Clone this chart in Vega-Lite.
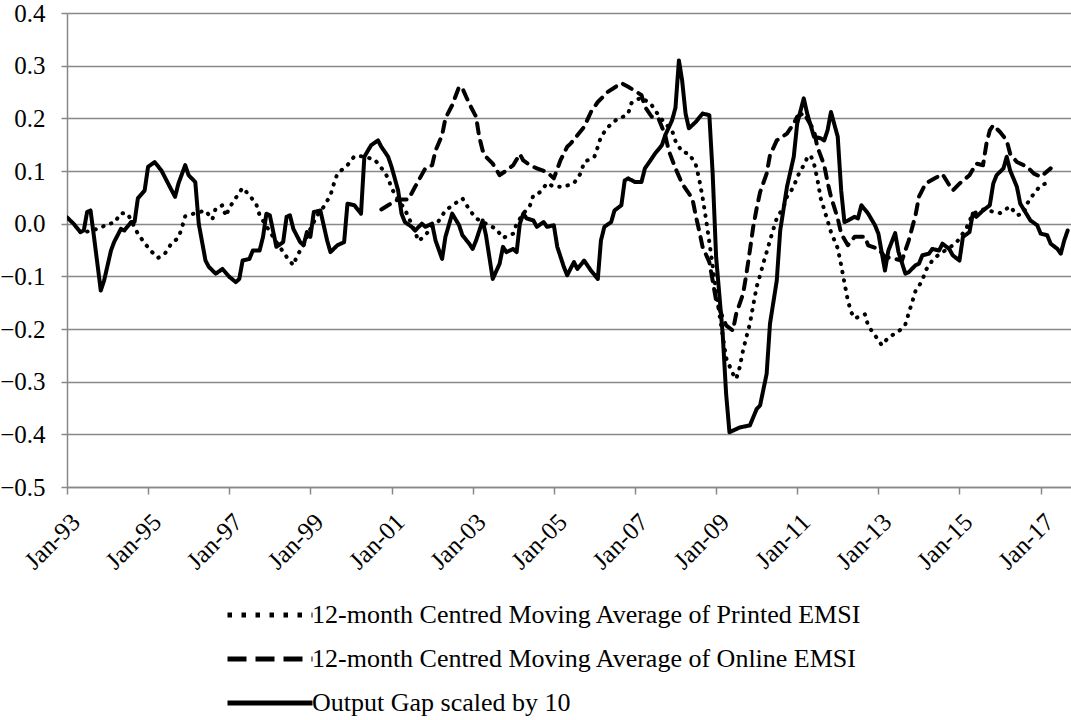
{
  "$schema": "https://vega.github.io/schema/vega-lite/v6.json",
  "width": 1004,
  "height": 474,
  "autosize": {"type": "none"},
  "padding": {"left": 67, "top": 13, "right": 0, "bottom": 233},
  "background": "white",
  "config": {"font": "Liberation Serif, Times New Roman, Times, DejaVu Serif, serif", "view": {"stroke": null}},
  "data": {"values": [
    {"s":"G","d":"1993-01-01","v":0.012},{"s":"G","d":"1993-03-01","v":0.0},{"s":"G","d":"1993-05-01","v":-0.016},{"s":"G","d":"1993-06-01","v":-0.013},{"s":"G","d":"1993-07-01","v":0.022},{"s":"G","d":"1993-08-01","v":0.025},{"s":"G","d":"1993-09-01","v":-0.025},{"s":"G","d":"1993-11-01","v":-0.127},{"s":"G","d":"1993-12-01","v":-0.108},
    {"s":"G","d":"1994-02-01","v":-0.051},{"s":"G","d":"1994-03-01","v":-0.035},{"s":"G","d":"1994-05-01","v":-0.01},{"s":"G","d":"1994-06-01","v":-0.013},{"s":"G","d":"1994-08-01","v":0.003},{"s":"G","d":"1994-09-01","v":0.003},{"s":"G","d":"1994-10-01","v":0.048},{"s":"G","d":"1994-12-01","v":0.063},
    {"s":"G","d":"1995-01-01","v":0.108},{"s":"G","d":"1995-03-01","v":0.117},{"s":"G","d":"1995-05-01","v":0.101},{"s":"G","d":"1995-07-01","v":0.076},{"s":"G","d":"1995-09-01","v":0.051},{"s":"G","d":"1995-10-01","v":0.076},{"s":"G","d":"1995-12-01","v":0.111},
    {"s":"G","d":"1996-01-01","v":0.092},{"s":"G","d":"1996-03-01","v":0.079},{"s":"G","d":"1996-04-01","v":0.0},{"s":"G","d":"1996-06-01","v":-0.07},{"s":"G","d":"1996-07-01","v":-0.082},{"s":"G","d":"1996-09-01","v":-0.095},{"s":"G","d":"1996-11-01","v":-0.086},
    {"s":"G","d":"1997-01-01","v":-0.101},{"s":"G","d":"1997-03-01","v":-0.111},{"s":"G","d":"1997-04-01","v":-0.105},{"s":"G","d":"1997-05-01","v":-0.07},{"s":"G","d":"1997-07-01","v":-0.067},{"s":"G","d":"1997-08-01","v":-0.051},{"s":"G","d":"1997-10-01","v":-0.051},{"s":"G","d":"1997-11-01","v":-0.025},{"s":"G","d":"1997-12-01","v":0.019},
    {"s":"G","d":"1998-01-01","v":0.016},{"s":"G","d":"1998-03-01","v":-0.044},{"s":"G","d":"1998-05-01","v":-0.035},{"s":"G","d":"1998-06-01","v":0.013},{"s":"G","d":"1998-07-01","v":0.016},{"s":"G","d":"1998-08-01","v":-0.01},{"s":"G","d":"1998-10-01","v":-0.035},{"s":"G","d":"1998-11-01","v":-0.041},{"s":"G","d":"1998-12-01","v":-0.016},
    {"s":"G","d":"1999-01-01","v":-0.025},{"s":"G","d":"1999-02-01","v":0.022},{"s":"G","d":"1999-04-01","v":0.025},{"s":"G","d":"1999-06-01","v":-0.032},{"s":"G","d":"1999-07-01","v":-0.054},{"s":"G","d":"1999-09-01","v":-0.041},{"s":"G","d":"1999-11-01","v":-0.035},{"s":"G","d":"1999-12-01","v":0.038},
    {"s":"G","d":"2000-02-01","v":0.035},{"s":"G","d":"2000-04-01","v":0.019},{"s":"G","d":"2000-05-01","v":0.127},{"s":"G","d":"2000-07-01","v":0.149},{"s":"G","d":"2000-09-01","v":0.158},{"s":"G","d":"2000-10-01","v":0.146},{"s":"G","d":"2000-12-01","v":0.127},
    {"s":"G","d":"2001-01-01","v":0.108},{"s":"G","d":"2001-03-01","v":0.063},{"s":"G","d":"2001-04-01","v":0.019},{"s":"G","d":"2001-05-01","v":0.003},{"s":"G","d":"2001-07-01","v":-0.006},{"s":"G","d":"2001-08-01","v":-0.013},{"s":"G","d":"2001-10-01","v":0.0},{"s":"G","d":"2001-11-01","v":-0.006},
    {"s":"G","d":"2002-01-01","v":0.0},{"s":"G","d":"2002-02-01","v":-0.032},{"s":"G","d":"2002-04-01","v":-0.067},{"s":"G","d":"2002-05-01","v":-0.025},{"s":"G","d":"2002-07-01","v":0.019},{"s":"G","d":"2002-09-01","v":-0.003},{"s":"G","d":"2002-10-01","v":-0.022},{"s":"G","d":"2002-12-01","v":-0.038},
    {"s":"G","d":"2003-01-01","v":-0.048},{"s":"G","d":"2003-02-01","v":-0.032},{"s":"G","d":"2003-04-01","v":0.006},{"s":"G","d":"2003-05-01","v":-0.022},{"s":"G","d":"2003-07-01","v":-0.105},{"s":"G","d":"2003-09-01","v":-0.076},{"s":"G","d":"2003-10-01","v":-0.044},{"s":"G","d":"2003-11-01","v":-0.054},
    {"s":"G","d":"2004-01-01","v":-0.048},{"s":"G","d":"2004-02-01","v":-0.054},{"s":"G","d":"2004-03-01","v":0.0},{"s":"G","d":"2004-04-01","v":0.019},{"s":"G","d":"2004-05-01","v":0.01},{"s":"G","d":"2004-07-01","v":0.006},{"s":"G","d":"2004-08-01","v":-0.006},{"s":"G","d":"2004-10-01","v":0.003},{"s":"G","d":"2004-11-01","v":-0.006},
    {"s":"G","d":"2005-01-01","v":-0.003},{"s":"G","d":"2005-02-01","v":-0.044},{"s":"G","d":"2005-04-01","v":-0.082},{"s":"G","d":"2005-05-01","v":-0.098},{"s":"G","d":"2005-07-01","v":-0.073},{"s":"G","d":"2005-08-01","v":-0.086},{"s":"G","d":"2005-10-01","v":-0.07},{"s":"G","d":"2005-12-01","v":-0.089},
    {"s":"G","d":"2006-02-01","v":-0.105},{"s":"G","d":"2006-03-01","v":-0.032},{"s":"G","d":"2006-04-01","v":-0.006},{"s":"G","d":"2006-06-01","v":0.003},{"s":"G","d":"2006-07-01","v":0.025},{"s":"G","d":"2006-09-01","v":0.035},{"s":"G","d":"2006-10-01","v":0.082},{"s":"G","d":"2006-11-01","v":0.086},
    {"s":"G","d":"2007-01-01","v":0.079},{"s":"G","d":"2007-03-01","v":0.079},{"s":"G","d":"2007-04-01","v":0.105},{"s":"G","d":"2007-05-01","v":0.114},{"s":"G","d":"2007-07-01","v":0.133},{"s":"G","d":"2007-09-01","v":0.149},{"s":"G","d":"2007-10-01","v":0.168},{"s":"G","d":"2007-12-01","v":0.196},
    {"s":"G","d":"2008-01-01","v":0.22},{"s":"G","d":"2008-02-01","v":0.31},{"s":"G","d":"2008-03-01","v":0.272},{"s":"G","d":"2008-04-01","v":0.209},{"s":"G","d":"2008-05-01","v":0.181},{"s":"G","d":"2008-07-01","v":0.193},{"s":"G","d":"2008-09-01","v":0.209},{"s":"G","d":"2008-11-01","v":0.206},{"s":"G","d":"2008-12-01","v":0.095},
    {"s":"G","d":"2009-01-01","v":-0.063},{"s":"G","d":"2009-03-01","v":-0.209},{"s":"G","d":"2009-04-01","v":-0.323},{"s":"G","d":"2009-05-01","v":-0.396},{"s":"G","d":"2009-08-01","v":-0.387},{"s":"G","d":"2009-11-01","v":-0.383},
    {"s":"G","d":"2010-01-01","v":-0.352},{"s":"G","d":"2010-02-01","v":-0.345},{"s":"G","d":"2010-04-01","v":-0.285},{"s":"G","d":"2010-05-01","v":-0.19},{"s":"G","d":"2010-07-01","v":-0.108},{"s":"G","d":"2010-08-01","v":-0.013},{"s":"G","d":"2010-10-01","v":0.07},{"s":"G","d":"2010-12-01","v":0.127},
    {"s":"G","d":"2011-01-01","v":0.19},{"s":"G","d":"2011-03-01","v":0.238},{"s":"G","d":"2011-04-01","v":0.209},{"s":"G","d":"2011-06-01","v":0.165},{"s":"G","d":"2011-08-01","v":0.162},{"s":"G","d":"2011-09-01","v":0.158},{"s":"G","d":"2011-10-01","v":0.177},{"s":"G","d":"2011-11-01","v":0.212},
    {"s":"G","d":"2012-01-01","v":0.165},{"s":"G","d":"2012-02-01","v":0.063},{"s":"G","d":"2012-03-01","v":0.003},{"s":"G","d":"2012-04-01","v":0.006},{"s":"G","d":"2012-06-01","v":0.013},{"s":"G","d":"2012-07-01","v":0.01},{"s":"G","d":"2012-08-01","v":0.035},{"s":"G","d":"2012-10-01","v":0.019},{"s":"G","d":"2012-12-01","v":-0.003},
    {"s":"G","d":"2013-01-01","v":-0.019},{"s":"G","d":"2013-03-01","v":-0.089},{"s":"G","d":"2013-04-01","v":-0.051},{"s":"G","d":"2013-06-01","v":-0.018},{"s":"G","d":"2013-07-01","v":-0.054},{"s":"G","d":"2013-09-01","v":-0.095},{"s":"G","d":"2013-10-01","v":-0.092},{"s":"G","d":"2013-12-01","v":-0.079},
    {"s":"G","d":"2014-01-01","v":-0.076},{"s":"G","d":"2014-02-01","v":-0.06},{"s":"G","d":"2014-04-01","v":-0.057},{"s":"G","d":"2014-05-01","v":-0.048},{"s":"G","d":"2014-07-01","v":-0.051},{"s":"G","d":"2014-08-01","v":-0.038},{"s":"G","d":"2014-10-01","v":-0.048},{"s":"G","d":"2014-11-01","v":-0.06},
    {"s":"G","d":"2015-01-01","v":-0.07},{"s":"G","d":"2015-02-01","v":-0.025},{"s":"G","d":"2015-04-01","v":-0.016},{"s":"G","d":"2015-05-01","v":0.019},{"s":"G","d":"2015-06-01","v":0.013},{"s":"G","d":"2015-08-01","v":0.025},{"s":"G","d":"2015-10-01","v":0.035},{"s":"G","d":"2015-11-01","v":0.076},{"s":"G","d":"2015-12-01","v":0.092},
    {"s":"G","d":"2016-02-01","v":0.105},{"s":"G","d":"2016-03-01","v":0.127},{"s":"G","d":"2016-04-01","v":0.101},{"s":"G","d":"2016-06-01","v":0.07},{"s":"G","d":"2016-07-01","v":0.038},{"s":"G","d":"2016-10-01","v":0.006},{"s":"G","d":"2016-12-01","v":-0.003},
    {"s":"G","d":"2017-01-01","v":-0.019},{"s":"G","d":"2017-03-01","v":-0.022},{"s":"G","d":"2017-04-01","v":-0.038},{"s":"G","d":"2017-06-01","v":-0.048},{"s":"G","d":"2017-07-01","v":-0.057},{"s":"G","d":"2017-08-01","v":-0.032},{"s":"G","d":"2017-09-01","v":-0.013},

    {"s":"P","d":"1993-07-01","v":-0.015},{"s":"P","d":"1993-11-01","v":-0.008},{"s":"P","d":"1994-01-01","v":0.0},{"s":"P","d":"1994-03-01","v":0.001},{"s":"P","d":"1994-05-01","v":0.02},{"s":"P","d":"1994-07-01","v":0.019},{"s":"P","d":"1994-10-01","v":-0.019},{"s":"P","d":"1994-12-01","v":-0.037},
    {"s":"P","d":"1995-02-01","v":-0.053},{"s":"P","d":"1995-04-01","v":-0.065},{"s":"P","d":"1995-06-01","v":-0.057},{"s":"P","d":"1995-08-01","v":-0.037},{"s":"P","d":"1995-10-01","v":-0.027},{"s":"P","d":"1995-11-01","v":-0.008},{"s":"P","d":"1995-12-01","v":0.014},
    {"s":"P","d":"1996-03-01","v":0.02},{"s":"P","d":"1996-06-01","v":0.025},{"s":"P","d":"1996-08-01","v":0.008},{"s":"P","d":"1996-09-01","v":0.029},{"s":"P","d":"1996-11-01","v":0.035},{"s":"P","d":"1996-12-01","v":0.014},
    {"s":"P","d":"1997-01-01","v":0.03},{"s":"P","d":"1997-03-01","v":0.049},{"s":"P","d":"1997-05-01","v":0.068},{"s":"P","d":"1997-07-01","v":0.054},{"s":"P","d":"1997-09-01","v":0.037},{"s":"P","d":"1997-10-01","v":0.016},
    {"s":"P","d":"1998-01-01","v":-0.015},{"s":"P","d":"1998-03-01","v":-0.035},{"s":"P","d":"1998-06-01","v":-0.063},{"s":"P","d":"1998-08-01","v":-0.079},{"s":"P","d":"1998-09-01","v":-0.062},{"s":"P","d":"1998-11-01","v":-0.04},
    {"s":"P","d":"1999-01-01","v":-0.01},{"s":"P","d":"1999-03-01","v":0.015},{"s":"P","d":"1999-05-01","v":0.032},{"s":"P","d":"1999-07-01","v":0.054},{"s":"P","d":"1999-08-01","v":0.076},{"s":"P","d":"1999-09-01","v":0.095},{"s":"P","d":"1999-12-01","v":0.111},
    {"s":"P","d":"2000-02-01","v":0.128},{"s":"P","d":"2000-04-01","v":0.128},{"s":"P","d":"2000-08-01","v":0.122},{"s":"P","d":"2000-10-01","v":0.106},{"s":"P","d":"2000-12-01","v":0.087},
    {"s":"P","d":"2001-01-01","v":0.067},{"s":"P","d":"2001-03-01","v":0.046},{"s":"P","d":"2001-05-01","v":0.027},{"s":"P","d":"2001-06-01","v":0.013},{"s":"P","d":"2001-08-01","v":-0.016},{"s":"P","d":"2001-09-01","v":-0.033},{"s":"P","d":"2001-11-01","v":-0.022},
    {"s":"P","d":"2002-01-01","v":-0.005},{"s":"P","d":"2002-03-01","v":0.005},{"s":"P","d":"2002-05-01","v":0.025},{"s":"P","d":"2002-08-01","v":0.039},{"s":"P","d":"2002-10-01","v":0.048},{"s":"P","d":"2002-12-01","v":0.027},
    {"s":"P","d":"2003-02-01","v":0.01},{"s":"P","d":"2003-05-01","v":0.0},{"s":"P","d":"2003-08-01","v":-0.01},{"s":"P","d":"2003-10-01","v":-0.027},
    {"s":"P","d":"2004-01-01","v":-0.019},{"s":"P","d":"2004-02-01","v":0.0},{"s":"P","d":"2004-04-01","v":0.019},{"s":"P","d":"2004-06-01","v":0.035},{"s":"P","d":"2004-07-01","v":0.054},{"s":"P","d":"2004-09-01","v":0.06},{"s":"P","d":"2004-11-01","v":0.077},
    {"s":"P","d":"2005-01-01","v":0.07},{"s":"P","d":"2005-04-01","v":0.07},{"s":"P","d":"2005-07-01","v":0.077},{"s":"P","d":"2005-09-01","v":0.096},{"s":"P","d":"2005-10-01","v":0.117},
    {"s":"P","d":"2006-01-01","v":0.127},{"s":"P","d":"2006-02-01","v":0.146},{"s":"P","d":"2006-03-01","v":0.165},{"s":"P","d":"2006-05-01","v":0.183},{"s":"P","d":"2006-08-01","v":0.2},{"s":"P","d":"2006-10-01","v":0.204},{"s":"P","d":"2006-11-01","v":0.209},{"s":"P","d":"2006-12-01","v":0.229},
    {"s":"P","d":"2007-03-01","v":0.24},{"s":"P","d":"2007-06-01","v":0.225},{"s":"P","d":"2007-08-01","v":0.206},{"s":"P","d":"2007-10-01","v":0.19},{"s":"P","d":"2007-12-01","v":0.177},
    {"s":"P","d":"2008-01-01","v":0.157},{"s":"P","d":"2008-03-01","v":0.136},{"s":"P","d":"2008-05-01","v":0.133},{"s":"P","d":"2008-07-01","v":0.113},{"s":"P","d":"2008-08-01","v":0.085},{"s":"P","d":"2008-09-01","v":0.05},{"s":"P","d":"2008-10-01","v":0.01},{"s":"P","d":"2008-11-01","v":-0.035},{"s":"P","d":"2008-12-01","v":-0.08},
    {"s":"P","d":"2009-01-01","v":-0.13},{"s":"P","d":"2009-03-01","v":-0.212},{"s":"P","d":"2009-04-01","v":-0.255},{"s":"P","d":"2009-06-01","v":-0.285},{"s":"P","d":"2009-07-01","v":-0.295},{"s":"P","d":"2009-08-01","v":-0.273},{"s":"P","d":"2009-09-01","v":-0.24},{"s":"P","d":"2009-10-01","v":-0.215},{"s":"P","d":"2009-11-01","v":-0.19},{"s":"P","d":"2009-12-01","v":-0.155},
    {"s":"P","d":"2010-01-01","v":-0.12},{"s":"P","d":"2010-02-01","v":-0.098},{"s":"P","d":"2010-03-01","v":-0.076},{"s":"P","d":"2010-04-01","v":-0.054},{"s":"P","d":"2010-05-01","v":-0.032},{"s":"P","d":"2010-06-01","v":-0.01},{"s":"P","d":"2010-07-01","v":0.01},{"s":"P","d":"2010-09-01","v":0.032},{"s":"P","d":"2010-10-01","v":0.051},{"s":"P","d":"2010-12-01","v":0.07},
    {"s":"P","d":"2011-01-01","v":0.089},{"s":"P","d":"2011-03-01","v":0.111},{"s":"P","d":"2011-04-01","v":0.125},{"s":"P","d":"2011-05-01","v":0.13},{"s":"P","d":"2011-06-01","v":0.114},{"s":"P","d":"2011-07-01","v":0.085},{"s":"P","d":"2011-08-01","v":0.048},{"s":"P","d":"2011-09-01","v":0.027},{"s":"P","d":"2011-10-01","v":0.006},{"s":"P","d":"2011-11-01","v":-0.016},
    {"s":"P","d":"2012-01-01","v":-0.047},{"s":"P","d":"2012-02-01","v":-0.079},{"s":"P","d":"2012-03-01","v":-0.112},{"s":"P","d":"2012-04-01","v":-0.146},{"s":"P","d":"2012-05-01","v":-0.168},{"s":"P","d":"2012-06-01","v":-0.18},{"s":"P","d":"2012-09-01","v":-0.172},{"s":"P","d":"2012-10-01","v":-0.194},{"s":"P","d":"2012-12-01","v":-0.212},
    {"s":"P","d":"2013-02-01","v":-0.231},{"s":"P","d":"2013-04-01","v":-0.216},{"s":"P","d":"2013-07-01","v":-0.205},{"s":"P","d":"2013-09-01","v":-0.191},{"s":"P","d":"2013-10-01","v":-0.17},{"s":"P","d":"2013-11-01","v":-0.149},{"s":"P","d":"2013-12-01","v":-0.128},
    {"s":"P","d":"2014-02-01","v":-0.108},{"s":"P","d":"2014-03-01","v":-0.089},{"s":"P","d":"2014-05-01","v":-0.07},{"s":"P","d":"2014-07-01","v":-0.058},{"s":"P","d":"2014-09-01","v":-0.05},{"s":"P","d":"2014-12-01","v":-0.037},
    {"s":"P","d":"2015-03-01","v":-0.01},{"s":"P","d":"2015-05-01","v":0.019},{"s":"P","d":"2015-08-01","v":0.027},
    {"s":"P","d":"2016-01-01","v":0.02},{"s":"P","d":"2016-04-01","v":0.033},{"s":"P","d":"2016-06-01","v":0.016},{"s":"P","d":"2016-08-01","v":0.019},{"s":"P","d":"2016-09-01","v":0.038},{"s":"P","d":"2016-11-01","v":0.057},
    {"s":"P","d":"2017-01-01","v":0.073},{"s":"P","d":"2017-03-01","v":0.077},

    {"s":"O","d":"2000-10-01","v":0.027},{"s":"O","d":"2000-12-01","v":0.035},{"s":"O","d":"2001-03-01","v":0.046},{"s":"O","d":"2001-06-01","v":0.046},{"s":"O","d":"2001-08-01","v":0.07},{"s":"O","d":"2001-11-01","v":0.105},
    {"s":"O","d":"2002-01-01","v":0.111},{"s":"O","d":"2002-02-01","v":0.139},{"s":"O","d":"2002-04-01","v":0.168},{"s":"O","d":"2002-05-01","v":0.2},{"s":"O","d":"2002-07-01","v":0.225},{"s":"O","d":"2002-09-01","v":0.26},{"s":"O","d":"2002-10-01","v":0.257},{"s":"O","d":"2002-12-01","v":0.228},
    {"s":"O","d":"2003-02-01","v":0.203},{"s":"O","d":"2003-03-01","v":0.165},{"s":"O","d":"2003-04-01","v":0.139},{"s":"O","d":"2003-05-01","v":0.127},{"s":"O","d":"2003-07-01","v":0.114},{"s":"O","d":"2003-09-01","v":0.092},{"s":"O","d":"2003-11-01","v":0.101},
    {"s":"O","d":"2004-01-01","v":0.111},{"s":"O","d":"2004-03-01","v":0.132},{"s":"O","d":"2004-04-01","v":0.12},{"s":"O","d":"2004-06-01","v":0.111},{"s":"O","d":"2004-08-01","v":0.105},{"s":"O","d":"2004-11-01","v":0.098},
    {"s":"O","d":"2005-01-01","v":0.086},{"s":"O","d":"2005-03-01","v":0.12},{"s":"O","d":"2005-05-01","v":0.146},{"s":"O","d":"2005-06-01","v":0.152},{"s":"O","d":"2005-08-01","v":0.168},{"s":"O","d":"2005-10-01","v":0.184},{"s":"O","d":"2005-12-01","v":0.212},
    {"s":"O","d":"2006-02-01","v":0.231},{"s":"O","d":"2006-05-01","v":0.25},{"s":"O","d":"2006-09-01","v":0.267},{"s":"O","d":"2006-11-01","v":0.26},
    {"s":"O","d":"2007-02-01","v":0.248},{"s":"O","d":"2007-03-01","v":0.244},{"s":"O","d":"2007-04-01","v":0.222},{"s":"O","d":"2007-06-01","v":0.203},{"s":"O","d":"2007-08-01","v":0.2},{"s":"O","d":"2007-10-01","v":0.168},{"s":"O","d":"2007-11-01","v":0.139},
    {"s":"O","d":"2008-01-01","v":0.105},{"s":"O","d":"2008-03-01","v":0.076},{"s":"O","d":"2008-06-01","v":0.048},{"s":"O","d":"2008-07-01","v":0.016},{"s":"O","d":"2008-08-01","v":-0.013},{"s":"O","d":"2008-09-01","v":-0.044},{"s":"O","d":"2008-11-01","v":-0.073},{"s":"O","d":"2008-12-01","v":-0.108},
    {"s":"O","d":"2009-01-01","v":-0.146},{"s":"O","d":"2009-03-01","v":-0.178},{"s":"O","d":"2009-04-01","v":-0.193},{"s":"O","d":"2009-06-01","v":-0.203},{"s":"O","d":"2009-07-01","v":-0.171},{"s":"O","d":"2009-09-01","v":-0.133},{"s":"O","d":"2009-10-01","v":-0.095},{"s":"O","d":"2009-11-01","v":-0.051},{"s":"O","d":"2009-12-01","v":-0.006},
    {"s":"O","d":"2010-01-01","v":0.029},{"s":"O","d":"2010-02-01","v":0.06},{"s":"O","d":"2010-04-01","v":0.095},{"s":"O","d":"2010-05-01","v":0.13},{"s":"O","d":"2010-07-01","v":0.158},{"s":"O","d":"2010-10-01","v":0.171},{"s":"O","d":"2010-12-01","v":0.19},
    {"s":"O","d":"2011-01-01","v":0.203},{"s":"O","d":"2011-03-01","v":0.21},{"s":"O","d":"2011-06-01","v":0.177},{"s":"O","d":"2011-07-01","v":0.146},{"s":"O","d":"2011-09-01","v":0.111},{"s":"O","d":"2011-10-01","v":0.079},{"s":"O","d":"2011-11-01","v":0.051},
    {"s":"O","d":"2012-01-01","v":0.01},{"s":"O","d":"2012-02-01","v":-0.019},{"s":"O","d":"2012-04-01","v":-0.041},{"s":"O","d":"2012-06-01","v":-0.025},{"s":"O","d":"2012-09-01","v":-0.025},{"s":"O","d":"2012-10-01","v":-0.041},
    {"s":"O","d":"2013-01-01","v":-0.048},{"s":"O","d":"2013-03-01","v":-0.063},{"s":"O","d":"2013-06-01","v":-0.067},{"s":"O","d":"2013-08-01","v":-0.07},{"s":"O","d":"2013-10-01","v":-0.032},{"s":"O","d":"2013-12-01","v":0.016},
    {"s":"O","d":"2014-01-01","v":0.051},{"s":"O","d":"2014-03-01","v":0.076},{"s":"O","d":"2014-06-01","v":0.087},{"s":"O","d":"2014-08-01","v":0.094},{"s":"O","d":"2014-10-01","v":0.073},{"s":"O","d":"2014-11-01","v":0.063},
    {"s":"O","d":"2015-01-01","v":0.076},{"s":"O","d":"2015-04-01","v":0.092},{"s":"O","d":"2015-06-01","v":0.114},{"s":"O","d":"2015-08-01","v":0.111},{"s":"O","d":"2015-09-01","v":0.152},{"s":"O","d":"2015-10-01","v":0.177},{"s":"O","d":"2015-11-01","v":0.187},
    {"s":"O","d":"2016-01-01","v":0.174},{"s":"O","d":"2016-03-01","v":0.158},{"s":"O","d":"2016-04-01","v":0.133},{"s":"O","d":"2016-06-01","v":0.117},{"s":"O","d":"2016-09-01","v":0.108},{"s":"O","d":"2016-11-01","v":0.095},
    {"s":"O","d":"2017-01-01","v":0.089},{"s":"O","d":"2017-04-01","v":0.105}
  ]},
  "encoding": {
    "x": {
      "field": "d", "type": "temporal",
      "scale": {"domain": [{"year": 1993, "month": 1, "date": 1}, {"year": 2017, "month": 10, "date": 1}]},
      "axis": {
        "title": null, "grid": false, "format": "%b-%y", "labelAngle": -45,
        "values": [{"year": 1993, "month": 1, "date": 1}, {"year": 1995, "month": 1, "date": 1}, {"year": 1997, "month": 1, "date": 1}, {"year": 1999, "month": 1, "date": 1}, {"year": 2001, "month": 1, "date": 1}, {"year": 2003, "month": 1, "date": 1}, {"year": 2005, "month": 1, "date": 1}, {"year": 2007, "month": 1, "date": 1}, {"year": 2009, "month": 1, "date": 1}, {"year": 2011, "month": 1, "date": 1}, {"year": 2013, "month": 1, "date": 1}, {"year": 2015, "month": 1, "date": 1}, {"year": 2017, "month": 1, "date": 1}],
        "labelFont": "Liberation Serif, Times New Roman, Times, DejaVu Serif, serif", "labelFontSize": 25, "labelColor": "black", "labelPadding": 15, "labelFlush": false, "labelOverlap": false,
        "domainColor": "#888888", "domainWidth": 1.5, "tickColor": "#888888", "tickWidth": 1.5, "tickSize": 7
      }
    },
    "y": {
      "field": "v", "type": "quantitative",
      "scale": {"domain": [-0.5, 0.4], "nice": false, "zero": false},
      "axis": {
        "title": null, "values": [-0.5, -0.4, -0.3, -0.2, -0.1, 0, 0.1, 0.2, 0.3, 0.4], "format": ".1f",
        "labelFont": "Liberation Serif, Times New Roman, Times, DejaVu Serif, serif", "labelFontSize": 25, "labelColor": "black", "labelPadding": 16,
        "gridColor": "#888888", "gridWidth": 1.5, "gridOpacity": 1,
        "domainColor": "#888888", "domainWidth": 1.5, "tickColor": "#888888", "tickWidth": 1.5, "tickSize": 6
      }
    }
  },
  "layer": [
    {
      "mark": {"type": "line", "color": "black", "strokeWidth": 4, "strokeCap": "round", "strokeJoin": "round", "clip": true},
      "encoding": {
        "strokeDash": {
          "field": "s", "type": "nominal",
          "scale": {"domain": ["P", "O", "G"], "range": [[0.5, 8], [10, 8], [1, 0]]},
          "legend": null
        }
      }
    },
    {
      "transform": [{"filter": "false"}],
      "mark": {"type": "line", "color": "black", "strokeWidth": 5, "clip": true},
      "encoding": {
        "strokeDash": {
          "field": "s", "type": "nominal",
          "scale": {"domain": ["P", "O", "G"], "range": [[4.5, 9.5], [19, 9], [1, 0]]},
          "legend": {
            "title": null, "orient": "none", "legendX": 158, "legendY": 580, "direction": "vertical",
            "symbolType": "stroke", "symbolSize": 7225, "symbolStrokeWidth": 5, "symbolStrokeColor": "black",
            "labelFont": "Liberation Serif, Times New Roman, Times, DejaVu Serif, serif", "labelFontSize": 26, "labelColor": "black", "labelOffset": -3, "labelLimit": 900,
            "clipHeight": 44, "rowPadding": 0, "padding": 0,
            "labelExpr": "datum.value == 'P' ? '12-month Centred Moving Average of Printed EMSI' : datum.value == 'O' ? '12-month Centred Moving Average of Online EMSI' : 'Output Gap scaled by 10'"
          }
        }
      }
    }
  ],
  "resolve": {"scale": {"strokeDash": "independent"}, "legend": {"strokeDash": "independent"}}
}
